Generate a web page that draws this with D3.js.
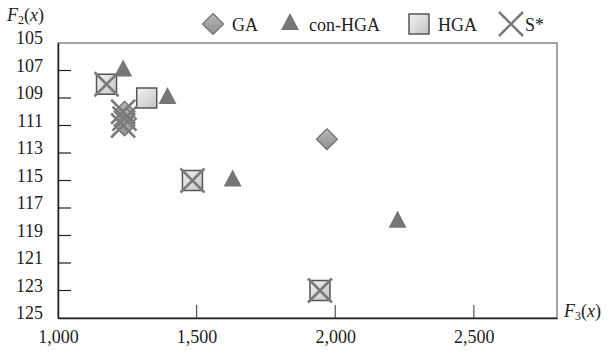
<!DOCTYPE html>
<html>
<head>
<meta charset="utf-8">
<script src="https://cdn.jsdelivr.net/npm/d3@7"></script>
<style>
  body { margin: 0; background: #fff; }
  text { font-family: "Liberation Serif", "DejaVu Serif", serif; fill: #222; }
</style>
</head>
<body>
<svg id="chart" width="611" height="354"></svg>
<script>
// data: [F3(x), F2(x)]
const gaPts = [[1970, 112], [1240, 110], [1245, 110.5], [1240, 111]];
const conHgaPts = [[1235, 107], [1395, 109], [1630, 115], [2225, 118]];
const hgaPts = [[1175, 108], [1320, 109], [1485, 115], [1945, 123]];
const sStarPts = [[1175, 108], [1485, 115], [1945, 123], [1235, 110], [1240, 110.5], [1235, 111]];
const xTicks = [1000, 1500, 2000, 2500];
const yTicks = [105, 107, 109, 111, 113, 115, 117, 119, 121, 123, 125];
const legendNames = ['GA', 'con-HGA', 'HGA', 'S*'];

const svg = d3.select('#chart');
const margin = {top: 43, right: 54, bottom: 36, left: 58};
const width = +svg.attr('width') - margin.left - margin.right;
const height = +svg.attr('height') - margin.top - margin.bottom;

const defs = svg.append('defs');
const sqGrad = defs.append('linearGradient').attr('id', 'sqGrad')
    .attr('x1', 0).attr('y1', 0).attr('x2', 1).attr('y2', 1);
sqGrad.append('stop').attr('offset', '0%').attr('stop-color', '#f2f2f2');
sqGrad.append('stop').attr('offset', '100%').attr('stop-color', '#c4c4c4');
const dmGrad = defs.append('linearGradient').attr('id', 'dmGrad')
    .attr('x1', 0).attr('y1', 0).attr('x2', 0).attr('y2', 1);
dmGrad.append('stop').attr('offset', '0%').attr('stop-color', '#b8b8b8');
dmGrad.append('stop').attr('offset', '100%').attr('stop-color', '#8e8e8e');

const g = svg.append('g').attr('transform', `translate(${margin.left}, ${margin.top})`);

const x = d3.scaleLinear().domain([1000, 2800]).range([0, width]);
const y = d3.scaleLinear().domain([105, 125]).range([0, height]);

// frame
g.append('rect').attr('width', width).attr('height', height)
    .attr('fill', 'none').attr('stroke', '#666').attr('stroke-width', 1.2);

// axes
const xAxis = d3.axisBottom(x).tickValues(xTicks).tickSize(0).tickPadding(12)
    .tickFormat(d3.format(','));
const xAxisG = g.append('g').attr('transform', `translate(0, ${height})`).call(xAxis);
xAxisG.select('.domain').attr('stroke', '#222').attr('stroke-width', 1.5);
xAxisG.selectAll('text').style('font-size', '18px').attr('fill', '#222')
    .attr('font-family', '"Liberation Serif", serif');
g.append('g').selectAll('line').data(xTicks.slice(1)).join('line')
    .attr('x1', d => x(d)).attr('x2', d => x(d))
    .attr('y1', height).attr('y2', height - 13)
    .attr('stroke', '#555').attr('stroke-width', 1.2);

const yAxis = d3.axisLeft(y).tickValues(yTicks).tickSize(0).tickPadding(15);
const yAxisG = g.append('g').call(yAxis);
yAxisG.select('.domain').attr('stroke', '#222').attr('stroke-width', 1.5);
yAxisG.selectAll('text').style('font-size', '18px').attr('fill', '#222')
    .attr('font-family', '"Liberation Serif", serif').attr('dy', '0.05em');
g.append('g').selectAll('line').data(yTicks.slice(1, -1)).join('line')
    .attr('x1', 0).attr('x2', 13)
    .attr('y1', d => y(d)).attr('y2', d => y(d))
    .attr('stroke', '#222').attr('stroke-width', 1.2);

// axis titles
const f2 = svg.append('text').attr('x', 7).attr('y', 21).style('font-size', '18px');
f2.append('tspan').attr('font-style', 'italic').text('F');
f2.append('tspan').style('font-size', '12px').attr('dy', 3).text('2');
f2.append('tspan').attr('dy', -3).text('(');
f2.append('tspan').attr('font-style', 'italic').text('x');
f2.append('tspan').text(')');

const f3 = svg.append('text').attr('x', 564).attr('y', 317).style('font-size', '18px');
f3.append('tspan').attr('font-style', 'italic').text('F');
f3.append('tspan').style('font-size', '12px').attr('dy', 3).text('3');
f3.append('tspan').attr('dy', -3).text('(');
f3.append('tspan').attr('font-style', 'italic').text('x');
f3.append('tspan').text(')');

// marker drawers
const diamond = sel => sel.append('path').attr('d', 'M0,-10.5L10.5,0L0,10.5L-10.5,0Z')
    .attr('fill', 'url(#dmGrad)').attr('stroke', '#6e6e6e').attr('stroke-width', 1.2);
const triangle = sel => sel.append('path').attr('d', 'M0,-11L9,6L-9,6Z')
    .attr('fill', '#767676');
const square = sel => sel.append('rect').attr('x', -10).attr('y', -10)
    .attr('width', 20).attr('height', 20)
    .attr('fill', 'url(#sqGrad)').attr('stroke', '#555').attr('stroke-width', 1.5);
const cross = sel => sel.append('path').attr('d', 'M-12,-12L12,12M12,-12L-12,12')
    .attr('stroke', '#7a7a7a').attr('stroke-width', 2.5).attr('fill', 'none');

const series = [
  {pts: gaPts, draw: diamond},
  {pts: conHgaPts, draw: triangle},
  {pts: hgaPts, draw: square},
  {pts: sStarPts, draw: cross}
];

series.forEach(s => {
  const pts = g.append('g').selectAll('g').data(s.pts).join('g')
      .attr('transform', d => `translate(${x(d[0])}, ${y(d[1])})`);
  s.draw(pts);
});

// legend
const legendX = [213, 290, 419, 511];
const legend = svg.append('g');
legendNames.forEach((name, i) => {
  const item = legend.append('g').attr('transform', `translate(${legendX[i]}, 24)`);
  series[i].draw(item);
  item.append('text').attr('x', i === 3 ? 14 : 19).attr('y', 7)
      .style('font-size', '18px').text(name);
});
</script>
</body>
</html>
